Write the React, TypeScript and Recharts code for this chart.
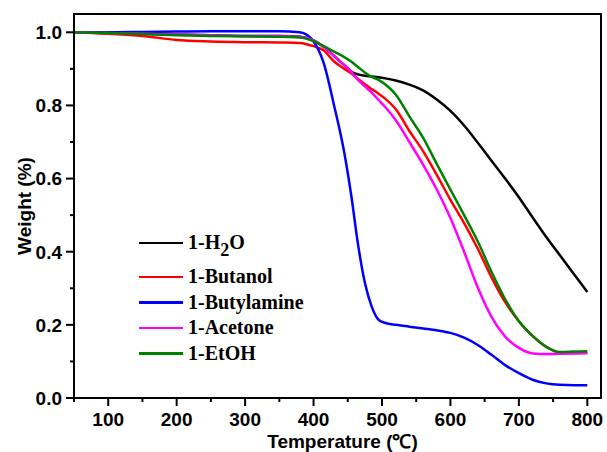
import React from "react";
import { LineChart, Line, XAxis, YAxis, Legend, ReferenceArea } from "recharts";

// temperature (°C) and weight fraction
const temps = [
  50, 100, 150, 200, 250, 300, 350, 380, 400, 415, 430, 445, 455, 465, 475, 485, 495,
  505, 520, 540, 560, 580, 600, 620, 640, 660, 680, 700, 720, 740, 760, 780, 800,
];
const h2o = [
  1.0, 0.998, 0.996, 0.994, 0.992, 0.99, 0.99, 0.988, 0.978, 0.96, 0.935, 0.91, 0.892,
  0.885, 0.881, 0.879, 0.877, 0.874, 0.868, 0.857, 0.841, 0.816, 0.785, 0.745, 0.698,
  0.649, 0.6, 0.549, 0.494, 0.44, 0.39, 0.34, 0.29,
];
const butanol = [
  1.0, 0.996, 0.99, 0.979, 0.975, 0.973, 0.972, 0.971, 0.962, 0.95, 0.92, 0.9, 0.888,
  0.872, 0.858, 0.845, 0.832, 0.818, 0.79, 0.73, 0.675, 0.61, 0.542, 0.478, 0.408, 0.33,
  0.262, 0.21, 0.17, 0.14, 0.124, 0.123, 0.123,
];
const butylamine = [
  1.0, 1.0, 1.001, 1.002, 1.003, 1.003, 1.003, 1.0, 0.975, 0.915, 0.8, 0.67, 0.555, 0.42,
  0.315, 0.25, 0.214, 0.205, 0.2, 0.195, 0.19, 0.185, 0.178, 0.165, 0.145, 0.118, 0.09,
  0.068, 0.05, 0.04, 0.036, 0.035, 0.035,
];
const acetone = [
  1.0, 0.998, 0.996, 0.994, 0.992, 0.99, 0.99, 0.988, 0.978, 0.96, 0.935, 0.91, 0.892,
  0.87, 0.852, 0.835, 0.815, 0.795, 0.76, 0.7, 0.638, 0.57, 0.492, 0.4, 0.302, 0.222,
  0.168, 0.137, 0.122, 0.12, 0.121, 0.122, 0.123,
];
const etoh = [
  1.0, 0.998, 0.995, 0.992, 0.99, 0.989, 0.988, 0.986, 0.976, 0.962, 0.947, 0.932, 0.92,
  0.905, 0.89, 0.878, 0.87, 0.857, 0.83, 0.77, 0.712, 0.64, 0.57, 0.5, 0.428, 0.345, 0.27,
  0.21, 0.17, 0.14, 0.126, 0.127, 0.128,
];

const xTicks = [50, 100, 150, 200, 250, 300, 350, 400, 450, 500, 550, 600, 650, 700, 750, 800];
const yTicks = [0, 0.1, 0.2, 0.3, 0.4, 0.5, 0.6, 0.7, 0.8, 0.9, 1.0];

const series = [
  { key: "h2o", name: "1-H2O", color: "#000000" },
  { key: "butanol", name: "1-Butanol", color: "#ff0000" },
  { key: "butylamine", name: "1-Butylamine", color: "#0000ff" },
  { key: "acetone", name: "1-Acetone", color: "#ff00ff" },
  { key: "etoh", name: "1-EtOH", color: "#008000" },
];

const data = temps.map((t, i) => ({
  t,
  h2o: h2o[i],
  butanol: butanol[i],
  butylamine: butylamine[i],
  acetone: acetone[i],
  etoh: etoh[i],
}));

const sans = "'Liberation Sans', Arial, sans-serif";

function XTick({ x, y, payload }: any) {
  const major = payload.value % 100 === 0;
  return (
    <g>
      <line x1={x} y1={y} x2={x} y2={y + (major ? 8 : 4)} stroke="#000" strokeWidth={2} />
      {major && (
        <text x={x} y={y + 28} textAnchor="middle" fontFamily={sans} fontWeight="bold" fontSize={19} fill="#000">
          {payload.value}
        </text>
      )}
    </g>
  );
}

function YTick({ x, y, payload }: any) {
  const major = Math.round(payload.value * 10) % 2 === 0;
  return (
    <g>
      <line x1={x} y1={y} x2={x - (major ? 8 : 4)} y2={y} stroke="#000" strokeWidth={2} />
      {major && (
        <text x={x - 12} y={y} dy="0.36em" textAnchor="end" fontFamily={sans} fontWeight="bold" fontSize={19} fill="#000">
          {payload.value.toFixed(1)}
        </text>
      )}
    </g>
  );
}

function LegendBox() {
  return (
    <div style={{ fontFamily: "'Liberation Serif', 'Times New Roman', serif", fontWeight: "bold", fontSize: 20, color: "#000" }}>
      {series.map((s, i) => (
        <div key={s.key} style={{ display: "flex", alignItems: "center", height: 25.6, marginBottom: i === 0 ? 8.4 : 0 }}>
          <span style={{ display: "inline-block", width: 44, height: 2.5, background: s.color, marginRight: 5 }} />
          <span style={{ whiteSpace: "nowrap" }}>
            {s.key === "h2o" ? (
              <>
                1-H<sub style={{ fontSize: 18, verticalAlign: -7, lineHeight: 0 }}>2</sub>O
              </>
            ) : (
              s.name
            )}
          </span>
        </div>
      ))}
    </div>
  );
}

export default function App() {
  return (
    <div style={{ position: "absolute", left: 0, top: 0, width: 607, height: 452, background: "#fff" }}>
      <LineChart width={607} height={452} data={data} margin={{ top: 14, right: 6, left: 0, bottom: 0 }}>
        <XAxis
          dataKey="t"
          type="number"
          domain={[50, 820]}
          ticks={xTicks}
          interval={0}
          height={54}
          tickSize={0}
          tickMargin={0}
          tickLine={false}
          axisLine={{ stroke: "#000", strokeWidth: 2 }}
          tick={<XTick />}
          label={{
            value: "Temperature (\u2103)",
            position: "insideBottom",
            offset: 4,
            dx: 5,
            fontFamily: sans,
            fontWeight: "bold",
            fontSize: 19,
            fill: "#000",
          }}
        />
        <YAxis
          type="number"
          domain={[0, 1.05]}
          ticks={yTicks}
          interval={0}
          width={74}
          tickSize={0}
          tickMargin={0}
          tickLine={false}
          axisLine={{ stroke: "#000", strokeWidth: 2 }}
          tick={<YTick />}
          label={{
            content: () => (
              <text
                x={24}
                y={206}
                transform="rotate(-90 24 206)"
                textAnchor="middle"
                dy="0.36em"
                fontFamily={sans}
                fontWeight="bold"
                fontSize={19}
                fill="#000"
              >
                Weight (%)
              </text>
            ),
          }}
        />
        <ReferenceArea x1={50} x2={820} y1={0} y2={1.05} fill="none" stroke="#000" strokeWidth={2} strokeOpacity={1} />
        {series.map((s) => (
          <Line
            key={s.key}
            type="monotone"
            dataKey={s.key}
            name={s.name}
            stroke={s.color}
            strokeWidth={2.5}
            dot={false}
            activeDot={false}
            isAnimationActive={false}
          />
        ))}
        <Legend
          layout="vertical"
          align="center"
          verticalAlign="middle"
          content={<LegendBox />}
          wrapperStyle={{ left: 139, top: 230, width: 220, height: 140 }}
        />
      </LineChart>
    </div>
  );
}
